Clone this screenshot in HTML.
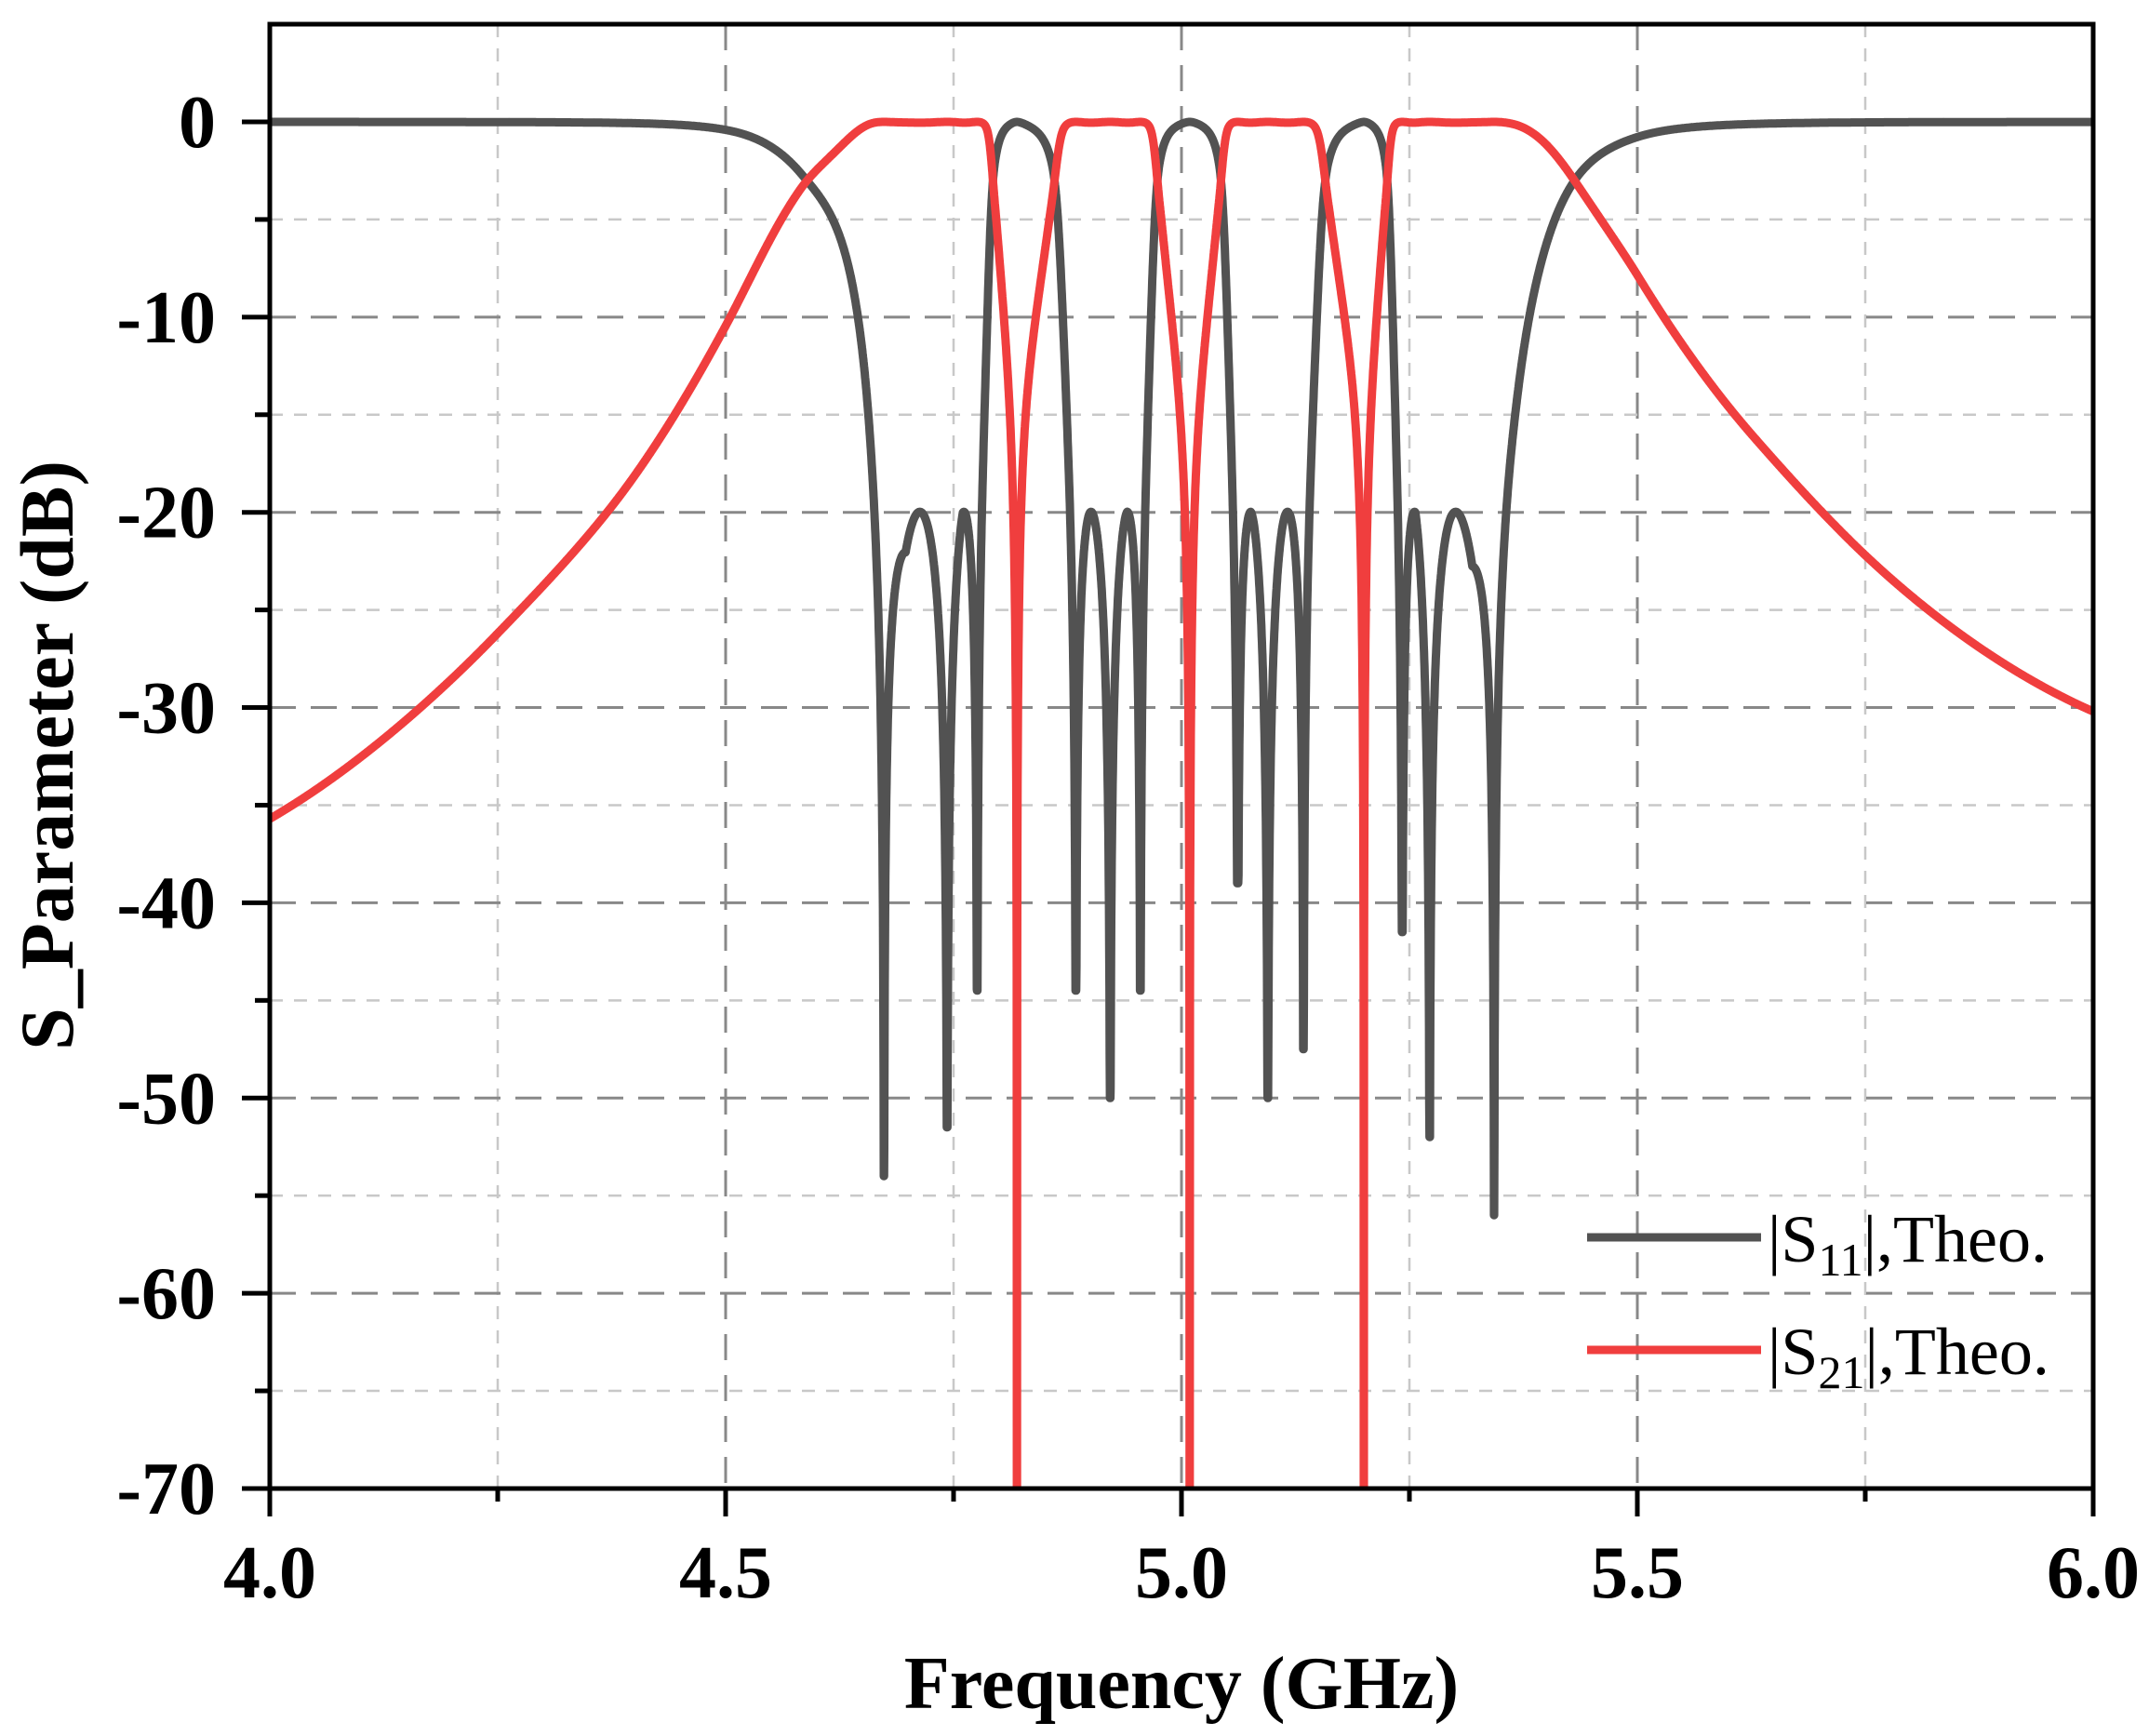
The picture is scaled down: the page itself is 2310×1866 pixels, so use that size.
<!DOCTYPE html>
<html><head><meta charset="utf-8"><style>
html,body{margin:0;padding:0;background:#fff;}
svg{display:block;}
</style></head><body>
<svg id="s" width="2310" height="1866" viewBox="0 0 2310 1866" xmlns="http://www.w3.org/2000/svg">
<defs><clipPath id="cp"><rect x="290" y="26" width="1960" height="1574"/></clipPath></defs>
<g id="grid"></g>
<g clip-path="url(#cp)">
<path id="p11" fill="none" stroke="#525252" stroke-width="9" stroke-linejoin="round"/>
<path id="p21" fill="none" stroke="#f03e3e" stroke-width="9" stroke-linejoin="round"/>
</g>
<rect x="290" y="26" width="1960" height="1574" fill="none" stroke="#000" stroke-width="5"/>
<g id="ticks" stroke="#000" stroke-width="5"></g>
<g font-family="Liberation Serif, serif" font-weight="bold" font-size="80" fill="#000">
<g text-anchor="end" id="ylab"></g>
<g text-anchor="middle" id="xlab"></g>
<text x="1270" y="1836" text-anchor="middle" font-size="80">Frequency (GHz)</text>
<text transform="translate(78,812) rotate(-90)" text-anchor="middle" font-size="82">S_Parameter (dB)</text>
</g>
<line x1="1706" y1="1330" x2="1893" y2="1330" stroke="#525252" stroke-width="9"/>
<line x1="1706" y1="1451" x2="1893" y2="1451" stroke="#f03e3e" stroke-width="9"/>
<g font-family="Liberation Serif, serif" font-size="72" fill="#000">
<text x="1900" y="1356">|S<tspan font-size="50" dy="15">11</tspan><tspan dy="-15">|,Theo.</tspan></text>
<text x="1900" y="1477">|S<tspan font-size="50" dy="15">21</tspan><tspan dy="-15">|,Theo.</tspan></text>
</g>
</svg>
<script>
(function(){
var X0=290,X1=2250,Y0=131,DY=20.985;
function X(f){return X0+(f-4)*(X1-X0)/2;}
function Y(d){return Y0-d*DY;}
var NS="http://www.w3.org/2000/svg";
function el(p,t,a){var e=document.createElementNS(NS,t);for(var k in a)e.setAttribute(k,a[k]);p.appendChild(e);return e;}
var g=document.getElementById('grid'),tk=document.getElementById('ticks');
for(var i=1;i<8;i++){var f=4+i*0.25,maj=(i%2==0);
 el(g,'line',{x1:X(f),x2:X(f),y1:26,y2:1600,stroke:maj?'#888':'#c8c8c8','stroke-width':maj?3:2.5,'stroke-dasharray':maj?'28,16':'14,12'});}
for(var d=0;d>=-65;d-=5){var maj=(d%10==0);if(d==0)continue;
 el(g,'line',{x1:290,x2:2250,y1:Y(d),y2:Y(d),stroke:maj?'#888':'#c8c8c8','stroke-width':maj?3:2.5,'stroke-dasharray':maj?'28,16':'14,12'});}
for(var d=0;d>=-70;d-=5){var maj=(d%10==0);el(tk,'line',{x1:290-(maj?30:16),x2:290,y1:Y(d),y2:Y(d)});}
for(var i=0;i<=8;i++){var maj=(i%2==0);el(tk,'line',{x1:X(4+i*0.25),x2:X(4+i*0.25),y1:1600,y2:1600+(maj?30:14)});}
var yl=document.getElementById('ylab'),xl=document.getElementById('xlab');
for(var d=0;d>=-70;d-=10){var t=el(yl,'text',{x:232,y:Y(d)+27});t.textContent=String(d);}
['4.0','4.5','5.0','5.5','6.0'].forEach(function(s,i){var t=el(xl,'text',{x:X(4+i*0.5),y:1717});t.textContent=s;});

var fr=[4.6737,4.7429,4.7759,4.8842,4.9218,4.9549,5.0617,5.0947,5.1338,5.2421,5.2722,5.3429];
var dep=[-54,-51.5,-44.5,-44.5,-50,-44.5,-39,-50,-47.5,-41.5,-52,-56];
var ft=[4.8195,5.0090,5.2000];
var C=5.0,A=0.5;
function G(f){var p=1;for(var i=0;i<12;i++)p*=(f-fr[i]);for(var j=0;j<3;j++)p/=(f-ft[j]);var r=(f-C)*(f-C)+A*A;return p/(r*r*r);}
var pk=[],kv=[];
for(var b=0;b<4;b++)for(var k=0;k<2;k++){var i=b*3+k,lo=fr[i],hi=fr[i+1],m=0,pl=lo;
  for(var s=1;s<400;s++){var f=lo+(hi-lo)*s/400,v=Math.abs(G(f));if(v>m){m=v;pl=f;}}
  pk.push(pl);kv.push(Math.log(0.1005/m));}
function Kf(f){if(f<=pk[0])return Math.exp(kv[0]);if(f>=pk[7])return Math.exp(kv[7]);
 for(var i=0;i<7;i++)if(f<=pk[i+1]){var t=(f-pk[i])/(pk[i+1]-pk[i]);return Math.exp(kv[i]+t*(kv[i+1]-kv[i]));}}
function F0(f){return Kf(f)*G(f);}
// iterate to equalise actual lobe maxima
for(var it=0;it<8;it++){var idx=0;
 for(var b=0;b<4;b++)for(var k=0;k<2;k++){var i=b*3+k,lo=fr[i],hi=fr[i+1],m=0;
  for(var s=1;s<400;s++){var f=lo+(hi-lo)*s/400,v=Math.abs(F0(f));if(v>m)m=v;}
  kv[idx]+=Math.log(0.1005/m);idx++;}}
function Ft(db){return Math.sqrt(Math.pow(10,-db/10)-1);}
var L=[[4.0,-35.7],[4.25,-26.2],[4.375,-19.7],[4.5,-10.45],[4.582,-3.45],[4.65,-0.3]];
var R=[[5.37,-0.2],[5.428,-2.8],[5.502,-8.0],[5.627,-16.1],[5.75,-22.2],[6.0,-30.2]];
var la=L.map(function(p){return [p[0],Math.log(Ft(p[1])/Math.abs(F0(p[0])))];});la.push([fr[0],0]);
var ra=[[fr[11],0]].concat(R.map(function(p){return [p[0],Math.log(Ft(p[1])/Math.abs(F0(p[0])))];}));
function interp(arr,f){var n=arr.length;if(f<=arr[0][0])return arr[0][1];if(f>=arr[n-1][0])return arr[n-1][1];
 for(var i=0;i<n-1;i++)if(f<=arr[i+1][0]){var x0=arr[i][0],x1=arr[i+1][0],y0=arr[i][1],y1=arr[i+1][1],h=x1-x0,t=(f-x0)/h;
  var m0=(i>0)?(y1-arr[i-1][1])/(x1-arr[i-1][0]):(y1-y0)/h;
  var m1=(i<n-2)?(arr[i+2][1]-y0)/(arr[i+2][0]-x0):(y1-y0)/h;
  var t2=t*t,t3=t2*t;
  return (2*t3-3*t2+1)*y0+(t3-2*t2+t)*h*m0+(-2*t3+3*t2)*y1+(t3-t2)*h*m1;}return 0;}
function F(f){var v=F0(f),c=0;
 if(f<fr[0])c=interp(la,f);else if(f>fr[11])c=interp(ra,f);
 else{var av=Math.abs(v);if(av>0&&isFinite(av)){var u=Math.log(av/0.7),sg=u<0?0.6:1.5;c=0.6*Math.exp(-u*u/(2*sg*sg));}}
 return v*Math.exp(c);}
var d11='',d21='';
for(var n=0;n<=8000;n++){var f=4+n*2/8000+1e-7,v=F(f),F2=v*v;
 var a11,a21;
 if(!isFinite(F2)){a11=0;a21=-80;}
 else{a11=10*Math.log(F2/(1+F2)+1e-30)/Math.LN10;a21=-10*Math.log(1+F2)/Math.LN10;}
 var near=0,dm=9;for(var i=0;i<12;i++){var dd=Math.abs(f-fr[i]);if(dd<dm){dm=dd;near=i;}}
 if(!(a11>=dep[near]))a11=dep[near];
 if(!(a21>-80))a21=-80;
 d11+=(n?'L':'M')+X(f).toFixed(1)+','+Y(a11).toFixed(1);
 d21+=(n?'L':'M')+X(f).toFixed(1)+','+Y(a21).toFixed(1);}
document.getElementById('p11').setAttribute('d',d11);
document.getElementById('p21').setAttribute('d',d21);
})();
</script>
</body></html>
